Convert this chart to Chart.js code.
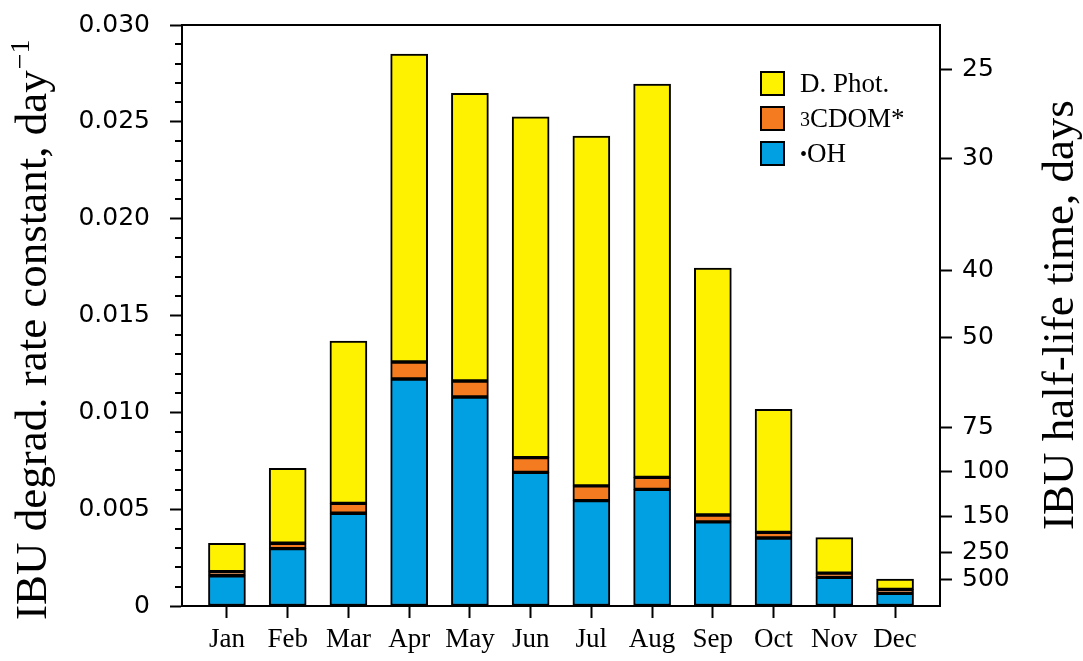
<!DOCTYPE html>
<html>
<head>
<meta charset="utf-8">
<script src="https://cdn.jsdelivr.net/npm/chart.js@4/dist/chart.umd.min.js"></script>
<style>
  body { margin: 0; background: #fff; }
  #wrap { position: relative; width: 1083px; height: 661px; }
  .legend { position: absolute; left: 760px; top: 66px; font-family: 'Liberation Serif', serif; font-size: 27px; color: #000; }
  .row { height: 35px; display: flex; align-items: center; }
  .box { width: 21px; height: 21px; border: 2px solid #000; margin-right: 15px; }
  .row sup { font-size: 20px; vertical-align: 8px; line-height: 0; }
</style>
</head>
<body>
<div id="wrap">
  <canvas id="chart" width="1083" height="661"></canvas>
  <div class="legend">
    <div class="row"><div class="box" style="background:#fff200"></div>D. Phot.</div>
    <div class="row"><div class="box" style="background:#f47b20"></div><sup>3</sup>CDOM*</div>
    <div class="row"><div class="box" style="background:#00a0e3"></div><sup>•</sup>OH</div>
  </div>
</div>
<script>
const months = ['Jan', 'Feb', 'Mar', 'Apr', 'May', 'Jun', 'Jul', 'Aug', 'Sep', 'Oct', 'Nov', 'Dec'];
const ohData = [0.00156, 0.00296, 0.00479, 0.01172, 0.01079, 0.00690, 0.00544, 0.00602, 0.00434, 0.00351, 0.00148, 0.00066];
const cdomData = [0.00021, 0.00028, 0.00051, 0.00088, 0.00083, 0.00076, 0.00076, 0.00062, 0.00036, 0.00029, 0.00022, 0.00020];
const dphotData = [0.00147, 0.00387, 0.00838, 0.01590, 0.01485, 0.01760, 0.01806, 0.02031, 0.01275, 0.00635, 0.00183, 0.00053];
const halfLives = [25, 30, 40, 50, 75, 100, 150, 250, 500];

const toPoints = (arr) => arr.map((v, i) => ({ x: i + 1, y: v }));

const bar = (label, data, color) => ({
    label,
    data: toPoints(data),
    backgroundColor: color,
    borderColor: '#000',
    borderWidth: 2,
    borderSkipped: false,
    barThickness: 37
});

// minor ticks, top frame line and the two axis titles
const extras = {
    id: 'extras',
    afterDraw(chart) {
        const ctx = chart.ctx;
        const area = chart.chartArea;
        const y = chart.scales.y;
        ctx.save();
        ctx.strokeStyle = '#000';
        ctx.lineWidth = 2;
        ctx.beginPath();
        for (let i = 1; i < 30; i++) {
            if (i % 5 === 0) continue;
            const py = Math.round(y.getPixelForValue(i * 0.001));
            ctx.moveTo(area.left - 7, py);
            ctx.lineTo(area.left, py);
        }
        ctx.moveTo(area.left - 1, area.top);
        ctx.lineTo(area.right + 1, area.top);
        ctx.stroke();

        ctx.fillStyle = '#000';
        ctx.textAlign = 'left';
        ctx.textBaseline = 'alphabetic';
        ctx.font = '45px "Liberation Serif"';
        const leftTitle = 'IBU degrad. rate constant, day';
        ctx.translate(46, 620);
        ctx.rotate(-Math.PI / 2);
        ctx.fillText(leftTitle, 0, 0);
        const w = ctx.measureText(leftTitle).width;
        ctx.font = '28px "Liberation Serif"';
        ctx.fillText('\u22121', w + 1, -17);
        ctx.restore();

        ctx.save();
        ctx.fillStyle = '#000';
        ctx.font = '45px "Liberation Serif"';
        ctx.textAlign = 'left';
        ctx.textBaseline = 'alphabetic';
        ctx.translate(1073, 530);
        ctx.rotate(-Math.PI / 2);
        ctx.fillText('IBU half-life time, days', 0, 0);
        ctx.restore();
    }
};

const tickFont = { family: 'DejaVu Sans', size: 25 };

const fixWidth = (w) => (scale) => {
    scale.width = w;
    scale.paddingTop = 0;
    scale.paddingBottom = 0;
};

new Chart(document.getElementById('chart'), {
    type: 'bar',
    data: {
        datasets: [
            bar('•OH', ohData, '#00a0e3'),
            bar('3CDOM*', cdomData, '#f47b20'),
            bar('D. Phot.', dphotData, '#fff200')
        ]
    },
    options: {
        responsive: false,
        animation: false,
        layout: { padding: { top: 25 } },
        plugins: {
            legend: { display: false },
            tooltip: { enabled: false }
        },
        scales: {
            x: {
                type: 'linear',
                stacked: true,
                offset: false,
                min: 0.26,
                max: 12.74,
                afterBuildTicks: (scale) => {
                    scale.ticks = months.map((m, i) => ({ value: i + 1 }));
                },
                afterFit: (scale) => { scale.height = 55; },
                ticks: {
                    autoSkip: false,
                    maxRotation: 0,
                    padding: 6,
                    color: '#000',
                    font: { family: 'Liberation Serif', size: 27 },
                    callback: (v) => months[Math.round(v) - 1]
                },
                grid: { offset: false, drawOnChartArea: false, tickLength: 12, tickWidth: 2, tickColor: '#000' },
                border: { color: '#000', width: 2 }
            },
            y: {
                stacked: true,
                min: 0,
                max: 0.03,
                afterFit: fixWidth(182),
                ticks: {
                    stepSize: 0.005,
                    padding: 20,
                    color: '#000',
                    font: tickFont,
                    callback: (v) => v === 0 ? '0' : v.toFixed(3)
                },
                grid: { drawOnChartArea: false, tickLength: 12, tickWidth: 2, tickColor: '#000' },
                border: { color: '#000', width: 2 }
            },
            y2: {
                position: 'right',
                min: 0,
                max: 0.03,
                afterBuildTicks: (scale) => {
                    scale.ticks = halfLives.map(t => ({ value: Math.LN2 / t }));
                },
                afterFit: fixWidth(143),
                ticks: {
                    autoSkip: false,
                    padding: 10,
                    color: '#000',
                    font: tickFont,
                    callback: (v, i) => String(halfLives[i])
                },
                grid: { drawOnChartArea: false, tickLength: 12, tickWidth: 2, tickColor: '#000' },
                border: { color: '#000', width: 2 }
            }
        }
    },
    plugins: [extras]
});
</script>
</body>
</html>
